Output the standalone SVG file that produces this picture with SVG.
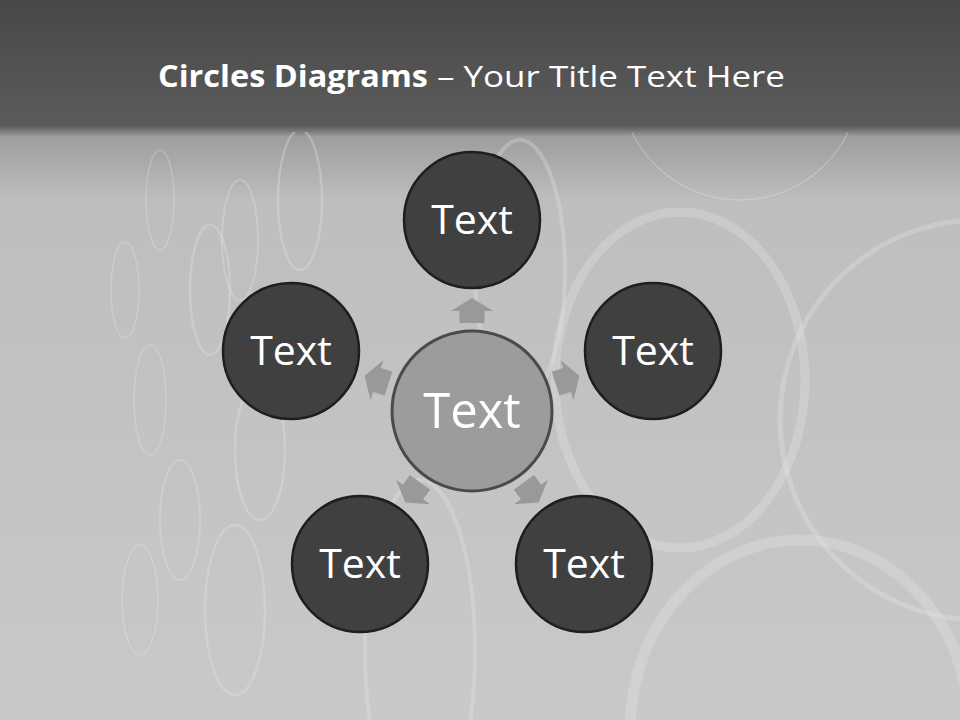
<svg xmlns="http://www.w3.org/2000/svg" width="960" height="720" viewBox="0 0 960 720">
<defs>
<linearGradient id="bg" x1="0" y1="0" x2="0" y2="1">
<stop offset="0" stop-color="#484848"/>
<stop offset="0.175" stop-color="#5b5b5b"/>
<stop offset="0.19" stop-color="#9e9e9e"/>
<stop offset="0.28" stop-color="#bebebe"/>
<stop offset="1" stop-color="#c9c9c9"/>
</linearGradient>
<clipPath id="below">
<rect x="0" y="132" width="960" height="588"/>
</clipPath>
<path id="arr" d="M-12,-12.5 L0,-12.5 L0,-21 L13,0 L0,21 L0,12.5 L-12,12.5 Z"/>
</defs>
<style>
.ring{fill:none;stroke:#e8e8e8;stroke-opacity:0.3}
.node{fill:#404040;stroke:#1e1e1e;stroke-width:2.5}
.hub{fill:#9c9c9c;stroke:#4a4a4a;stroke-width:3}
.lbl{font-family:"Open Sans","DejaVu Sans",sans-serif;fill:#ffffff;text-anchor:middle}
.arrow{fill:#999999}
.title{font-family:"Open Sans","Liberation Sans",sans-serif;fill:#ffffff;font-size:30px}
</style>
<rect width="960" height="720" fill="url(#bg)"/>
<g id="background-rings" clip-path="url(#below)">
<circle class="ring" cx="740" cy="80" r="120" stroke-width="1.5"/>
<circle class="ring" cx="980" cy="420" r="200" stroke-width="5"/>
<ellipse class="ring" cx="680" cy="380" rx="125" ry="168" stroke-width="9"/>
<ellipse class="ring" cx="800" cy="730" rx="170" ry="190" stroke-width="11"/>
<ellipse class="ring" cx="520" cy="270" rx="45" ry="130" stroke-width="4"/>
<ellipse class="ring" cx="420" cy="650" rx="55" ry="170" stroke-width="4"/>
<ellipse class="ring" cx="260" cy="450" rx="25" ry="70" stroke-width="2.5"/>
<ellipse class="ring" cx="235" cy="610" rx="30" ry="85" stroke-width="2.5"/>
<ellipse class="ring" cx="210" cy="290" rx="20" ry="65" stroke-width="2.5"/>
<ellipse class="ring" cx="180" cy="520" rx="20" ry="60" stroke-width="2"/>
<ellipse class="ring" cx="150" cy="400" rx="16" ry="55" stroke-width="1.5"/>
<ellipse class="ring" cx="140" cy="600" rx="18" ry="55" stroke-width="1.5"/>
<ellipse class="ring" cx="125" cy="290" rx="14" ry="48" stroke-width="1.5"/>
<ellipse class="ring" cx="160" cy="200" rx="14" ry="50" stroke-width="1.5"/>
<ellipse class="ring" cx="300" cy="200" rx="22" ry="70" stroke-width="2.5"/>
<ellipse class="ring" cx="240" cy="240" rx="18" ry="60" stroke-width="2"/>
</g>
<text class="title" x="158" y="87" font-weight="bold" textLength="270" lengthAdjust="spacingAndGlyphs">Circles Diagrams</text>
<text class="title" x="437" y="87" textLength="348" lengthAdjust="spacingAndGlyphs">– Your Title Text Here</text>
<g id="connectors">
<use href="#arr" class="arrow" transform="translate(472,311) rotate(-90)"/>
<use href="#arr" class="arrow" transform="translate(567,380) rotate(-18)"/>
<use href="#arr" class="arrow" transform="translate(377,380) rotate(-162)"/>
<use href="#arr" class="arrow" transform="translate(531,492) rotate(54)"/>
<use href="#arr" class="arrow" transform="translate(413,492) rotate(126)"/>
</g>
<g id="node-center">
<circle class="hub" cx="472" cy="411" r="80"/>
<text class="lbl" x="472" y="428" font-size="49">Text</text>
</g>
<g id="node-top">
<circle class="node" cx="472" cy="220" r="68"/>
<text class="lbl" x="472" y="234" font-size="41">Text</text>
</g>
<g id="node-left">
<circle class="node" cx="291" cy="351" r="68"/>
<text class="lbl" x="291" y="365" font-size="41">Text</text>
</g>
<g id="node-right">
<circle class="node" cx="653" cy="351" r="68"/>
<text class="lbl" x="653" y="365" font-size="41">Text</text>
</g>
<g id="node-bottom-left">
<circle class="node" cx="360" cy="564" r="68"/>
<text class="lbl" x="360" y="578" font-size="41">Text</text>
</g>
<g id="node-bottom-right">
<circle class="node" cx="584" cy="564" r="68"/>
<text class="lbl" x="584" y="578" font-size="41">Text</text>
</g>
</svg>
